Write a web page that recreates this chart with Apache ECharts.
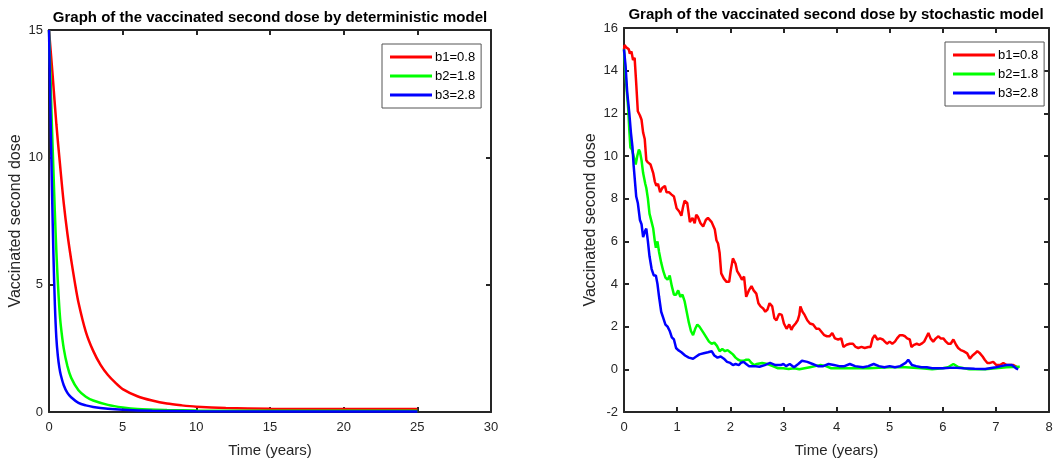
<!DOCTYPE html>
<html>
<head>
<meta charset="utf-8">
<script src="https://cdn.jsdelivr.net/npm/echarts@6/dist/echarts.min.js"></script>
<style>
  html, body { margin: 0; padding: 0; background: #fff; }
  #chart { width: 1060px; height: 459px; }
</style>
</head>
<body>
<div id="chart"></div>
<script>
// series names
const seriesNames = ['b1=0.8', 'b2=1.8', 'b3=2.8'];
const seriesColors = ['#ff0000', '#00ff00', '#0000ff'];

// deterministic model: [time, value]
const detB1 = [[0, 15], [0.25, 13.2], [0.5, 11.3], [0.75, 9.7], [1, 8.2], [1.25, 7.0], [1.5, 6.0], [1.75, 5.1],
  [2, 4.3], [2.5, 3.15], [3, 2.4], [3.5, 1.85], [4, 1.45], [4.5, 1.15], [5, 0.9], [6, 0.62], [7, 0.45],
  [8, 0.33], [9, 0.26], [10, 0.21], [12, 0.16], [15, 0.13], [20, 0.12], [25, 0.12]];
const detB2 = [[0, 15], [0.1, 13.2], [0.2, 11.2], [0.3, 9.5], [0.4, 7.8], [0.5, 6.3], [0.6, 5.1], [0.7, 4.1],
  [0.8, 3.4], [1, 2.5], [1.25, 1.8], [1.5, 1.35], [2, 0.85], [2.5, 0.6], [3, 0.45], [4, 0.28], [5, 0.18],
  [6, 0.12], [8, 0.08], [10, 0.06], [15, 0.05], [25, 0.05]];
const detB3 = [[0, 15], [0.1, 11.8], [0.2, 8.8], [0.3, 6.2], [0.4, 4.2], [0.5, 2.9], [0.6, 2.2], [0.7, 1.75],
  [0.8, 1.45], [1, 1.05], [1.25, 0.75], [1.5, 0.58], [2, 0.36], [2.5, 0.26], [3, 0.2], [4, 0.13], [5, 0.09],
  [7, 0.05], [10, 0.03], [25, 0.02]];

// stochastic model: [time, value]
const stoB1 = [[0, 15.0], [0.01, 15.2], [0.04, 15.1], [0.09, 15.0], [0.11, 14.8], [0.14, 14.9], [0.17, 14.5],
  [0.2, 14.6], [0.23, 13.4], [0.26, 12.1], [0.3, 11.9], [0.33, 11.7], [0.36, 11.1], [0.39, 10.8], [0.42, 9.8],
  [0.45, 9.7], [0.5, 9.6], [0.55, 9.2], [0.58, 8.8], [0.61, 8.6], [0.64, 8.7], [0.68, 8.3], [0.72, 8.5],
  [0.77, 8.6], [0.8, 8.3], [0.85, 8.3], [0.89, 8.2], [0.94, 8.1], [0.99, 7.55], [1.04, 7.4], [1.08, 7.2],
  [1.11, 7.6], [1.14, 7.9], [1.19, 7.8], [1.24, 6.9], [1.29, 7.1], [1.33, 6.85], [1.36, 7.25], [1.39, 7.15],
  [1.44, 6.85], [1.49, 6.7], [1.54, 7.0], [1.58, 7.1], [1.61, 7.15], [1.65, 6.9], [1.68, 6.85], [1.71, 6.55],
  [1.74, 6.05], [1.77, 5.9], [1.8, 5.45], [1.83, 4.5], [1.88, 4.25], [1.93, 4.1], [1.98, 4.1], [2.01, 4.65],
  [2.05, 5.2], [2.1, 4.95], [2.13, 4.6], [2.18, 4.4], [2.22, 4.2], [2.26, 4.35], [2.3, 3.4], [2.35, 3.7],
  [2.4, 3.9], [2.44, 3.7], [2.49, 3.55], [2.53, 3.1], [2.57, 2.95], [2.62, 2.85], [2.66, 2.7], [2.7, 2.8],
  [2.74, 3.1], [2.79, 2.95], [2.83, 2.4], [2.87, 2.3], [2.92, 2.6], [2.97, 2.55], [3.01, 2.15], [3.06, 1.9],
  [3.11, 2.1], [3.15, 1.85], [3.18, 2.0], [3.23, 2.15], [3.27, 2.3], [3.3, 2.55], [3.32, 2.95], [3.36, 2.7],
  [3.4, 2.55], [3.45, 2.3], [3.5, 2.15], [3.56, 2.1], [3.62, 1.9], [3.67, 1.9], [3.72, 1.75], [3.77, 1.6],
  [3.82, 1.55], [3.87, 1.55], [3.92, 1.7], [3.97, 1.45], [4.03, 1.4], [4.09, 1.45], [4.13, 1.05], [4.19, 1.15],
  [4.25, 1.2], [4.31, 1.2], [4.36, 1.05], [4.41, 1.0], [4.47, 1.05], [4.53, 1.0], [4.6, 1.05], [4.64, 1.05],
  [4.68, 1.45], [4.72, 1.6], [4.77, 1.4], [4.82, 1.45], [4.87, 1.4], [4.91, 1.3], [4.95, 1.2], [5.0, 1.3],
  [5.05, 1.2], [5.1, 1.3], [5.14, 1.45], [5.19, 1.6], [5.24, 1.6], [5.29, 1.55], [5.33, 1.45], [5.38, 1.4],
  [5.41, 1.05], [5.46, 1.15], [5.51, 1.2], [5.56, 1.15], [5.6, 1.2], [5.65, 1.3], [5.7, 1.55], [5.73, 1.7],
  [5.77, 1.45], [5.82, 1.3], [5.87, 1.45], [5.92, 1.55], [5.96, 1.45], [6.01, 1.45], [6.06, 1.3], [6.1, 1.2],
  [6.15, 1.2], [6.2, 1.4], [6.25, 1.15], [6.29, 1.0], [6.34, 0.9], [6.39, 0.85], [6.42, 0.9], [6.46, 0.75],
  [6.51, 0.5], [6.56, 0.65], [6.61, 0.75], [6.65, 0.85], [6.7, 0.75], [6.75, 0.6], [6.79, 0.45], [6.84, 0.3],
  [6.89, 0.3], [6.95, 0.35], [7.01, 0.2], [7.08, 0.2], [7.14, 0.3], [7.2, 0.2], [7.26, 0.2], [7.33, 0.2],
  [7.39, 0.12]];
const stoB2 = [[0, 15.0], [0.04, 13.4], [0.08, 12.2], [0.1, 11.2], [0.12, 10.4], [0.15, 10.3], [0.2, 9.8],
  [0.22, 9.6], [0.25, 10.0], [0.28, 10.3], [0.3, 10.2], [0.33, 9.8], [0.36, 9.2], [0.4, 8.7], [0.42, 8.5],
  [0.45, 8.0], [0.48, 7.3], [0.52, 6.9], [0.55, 6.6], [0.58, 6.0], [0.6, 5.7], [0.63, 6.0], [0.66, 5.5],
  [0.7, 5.0], [0.74, 4.6], [0.78, 4.3], [0.82, 4.2], [0.86, 4.4], [0.9, 3.9], [0.94, 3.5], [0.98, 3.5],
  [1.02, 3.7], [1.06, 3.4], [1.1, 3.5], [1.14, 3.2], [1.18, 2.7], [1.22, 2.2], [1.26, 1.8], [1.3, 1.6],
  [1.34, 1.9], [1.38, 2.1], [1.42, 2.0], [1.46, 1.85], [1.5, 1.7], [1.55, 1.5], [1.6, 1.3], [1.65, 1.2],
  [1.7, 1.25], [1.75, 1.1], [1.8, 0.85], [1.85, 0.95], [1.9, 0.85], [1.95, 0.9], [2.0, 0.8], [2.05, 0.7],
  [2.1, 0.55], [2.15, 0.45], [2.2, 0.4], [2.25, 0.4], [2.3, 0.45], [2.35, 0.45], [2.4, 0.3], [2.45, 0.2],
  [2.5, 0.25], [2.6, 0.3], [2.7, 0.25], [2.8, 0.15], [2.9, 0.05], [3.0, 0.05], [3.1, 0.02], [3.2, 0.05],
  [3.3, 0.0], [3.4, 0.05], [3.5, 0.1], [3.6, 0.15], [3.7, 0.2], [3.8, 0.15], [3.9, 0.05], [4.0, 0.05],
  [4.3, 0.05], [4.6, 0.05], [5.0, 0.1], [5.3, 0.1], [5.6, 0.05], [5.8, 0.0], [6.0, 0.05], [6.1, 0.1],
  [6.2, 0.25], [6.3, 0.1], [6.5, 0.0], [6.8, 0.0], [7.0, 0.05], [7.2, 0.1], [7.45, 0.12]];
const stoB3 = [[0, 15.0], [0.03, 14.2], [0.06, 13.0], [0.1, 12.0], [0.13, 11.1], [0.16, 10.4], [0.18, 9.6],
  [0.2, 9.0], [0.23, 8.1], [0.26, 7.8], [0.3, 7.0], [0.33, 6.8], [0.36, 6.2], [0.4, 6.5], [0.42, 6.6],
  [0.45, 6.0], [0.48, 5.3], [0.52, 4.7], [0.56, 4.4], [0.6, 4.4], [0.63, 4.0], [0.66, 3.4], [0.7, 2.7],
  [0.74, 2.4], [0.78, 2.1], [0.82, 2.0], [0.86, 1.8], [0.9, 1.5], [0.94, 1.4], [0.98, 1.0], [1.02, 0.9],
  [1.08, 0.8], [1.15, 0.65], [1.22, 0.55], [1.3, 0.5], [1.36, 0.6], [1.42, 0.7], [1.5, 0.75], [1.58, 0.8],
  [1.65, 0.85], [1.7, 0.65], [1.76, 0.55], [1.82, 0.6], [1.88, 0.5], [1.94, 0.35], [2.0, 0.3], [2.05, 0.2],
  [2.1, 0.25], [2.16, 0.2], [2.2, 0.3], [2.25, 0.35], [2.3, 0.25], [2.35, 0.15], [2.45, 0.15], [2.55, 0.12],
  [2.65, 0.2], [2.75, 0.3], [2.85, 0.2], [2.95, 0.2], [3.0, 0.25], [3.05, 0.15], [3.12, 0.25], [3.2, 0.1],
  [3.28, 0.25], [3.35, 0.4], [3.45, 0.35], [3.55, 0.25], [3.65, 0.15], [3.75, 0.15], [3.85, 0.25], [3.95, 0.2],
  [4.05, 0.15], [4.15, 0.15], [4.25, 0.25], [4.35, 0.15], [4.5, 0.1], [4.6, 0.15], [4.7, 0.25], [4.8, 0.15],
  [4.9, 0.1], [5.0, 0.15], [5.1, 0.1], [5.2, 0.15], [5.3, 0.3], [5.35, 0.45], [5.42, 0.2], [5.5, 0.15],
  [5.6, 0.1], [5.7, 0.1], [5.8, 0.05], [5.9, 0.05], [6.0, 0.05], [6.2, 0.08], [6.4, 0.05], [6.6, 0.03],
  [6.8, 0.02], [7.0, 0.1], [7.1, 0.15], [7.2, 0.2], [7.3, 0.2], [7.38, 0.05], [7.42, 0.0]];

// axis ranges
const detX = { min: 0, max: 30, interval: 5 };
const detY = { min: 0, max: 15, interval: 5 };
const stoX = { min: 0, max: 8, interval: 1 };
const stoY = { min: -2, max: 16, interval: 2 };

const FONT = '"Liberation Sans", Arial, sans-serif';
const AXIS_COLOR = '#262626';

function axis(kind, grid, range, position, withLabels, name) {
  const a = {
    type: 'value',
    gridIndex: grid,
    position: position,
    min: range.min,
    max: range.max,
    interval: range.interval,
    axisLine: { show: true, onZero: false, lineStyle: { color: AXIS_COLOR, width: 2 } },
    axisTick: { show: true, inside: true, length: 5, lineStyle: { color: AXIS_COLOR, width: 2 } },
    axisLabel: { show: withLabels, color: AXIS_COLOR, fontFamily: FONT, fontSize: 13,
      margin: kind === 'x' ? 9 : 6, showMaxLabel: true, showMinLabel: true },
    splitLine: { show: false }
  };
  if (name) {
    a.name = name;
    a.nameLocation = 'middle';
    a.nameGap = kind === 'x' ? 31 : 25;
    a.nameTextStyle = { color: AXIS_COLOR, fontFamily: FONT, fontSize: kind === 'x' ? 15 : 16 };
  }
  return a;
}

function legend(left, top) {
  return {
    orient: 'vertical',
    left: left,
    top: top,
    icon: 'rect',
    itemWidth: 42,
    itemHeight: 3,
    itemGap: 5,
    padding: [6, 6, 6, 8],
    backgroundColor: '#fff',
    borderColor: '#555',
    borderWidth: 1,
    textStyle: { color: '#000', fontFamily: FONT, fontSize: 13, lineHeight: 14, padding: [0, 0, 0, -2] },
    data: seriesNames
  };
}

function line(name, color, data, xi, yi, smooth) {
  return {
    name: name,
    type: 'line',
    xAxisIndex: xi,
    yAxisIndex: yi,
    data: data,
    showSymbol: false,
    symbol: 'none',
    smooth: smooth,
    lineStyle: { color: color, width: 2.5 },
    itemStyle: { color: color },
    animation: false
  };
}

const chart = echarts.init(document.getElementById('chart'), null, { renderer: 'canvas' });
chart.setOption({
  backgroundColor: '#fff',
  animation: false,
  title: [
    { text: 'Graph of the vaccinated second dose by deterministic model', left: 270, top: 10, textAlign: 'center',
      padding: 0, textStyle: { fontFamily: FONT, fontSize: 15, fontWeight: 'bold', color: '#000' } },
    { text: 'Graph of the vaccinated second dose by stochastic model', left: 836, top: 7, textAlign: 'center',
      padding: 0, textStyle: { fontFamily: FONT, fontSize: 15, fontWeight: 'bold', color: '#000' } }
  ],
  grid: [
    { left: 49, top: 30, width: 442, height: 382, containLabel: false, outerBoundsMode: 'none' },
    { left: 624, top: 28, width: 425, height: 384, containLabel: false, outerBoundsMode: 'none' }
  ],
  xAxis: [
    axis('x', 0, detX, 'bottom', true, 'Time (years)'),
    axis('x', 0, detX, 'top', false),
    axis('x', 1, stoX, 'bottom', true, 'Time (years)'),
    axis('x', 1, stoX, 'top', false)
  ],
  yAxis: [
    axis('y', 0, detY, 'left', true, 'Vaccinated second dose'),
    axis('y', 0, detY, 'right', false),
    axis('y', 1, stoY, 'left', true, 'Vaccinated second dose'),
    axis('y', 1, stoY, 'right', false)
  ],
  legend: [legend(382, 44), legend(945, 42)],
  series: [
    line(seriesNames[0], seriesColors[0], detB1, 0, 0, 0.3),
    line(seriesNames[1], seriesColors[1], detB2, 0, 0, 0.3),
    line(seriesNames[2], seriesColors[2], detB3, 0, 0, 0.3),
    line(seriesNames[0], seriesColors[0], stoB1, 2, 2, false),
    line(seriesNames[1], seriesColors[1], stoB2, 2, 2, false),
    line(seriesNames[2], seriesColors[2], stoB3, 2, 2, false)
  ]
});
</script>
</body>
</html>
